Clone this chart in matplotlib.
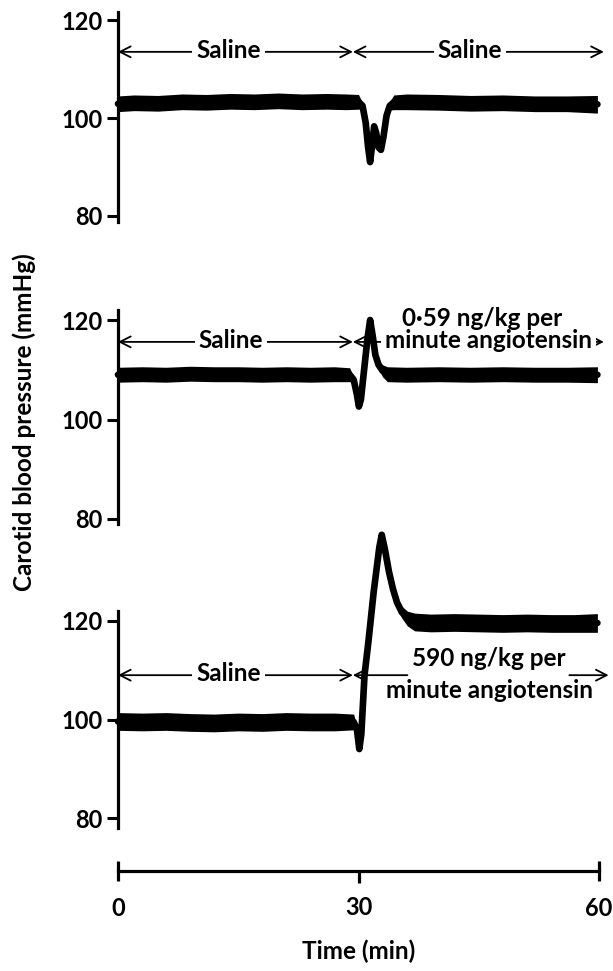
import matplotlib
matplotlib.use('Agg')
import matplotlib.pyplot as plt
import numpy as np

plt.rcParams['font.family'] = ['Lato', 'DejaVu Sans']
plt.rcParams['font.weight'] = 'bold'

W, H = 613, 971

# ---------------- data ----------------
# Panel 1: saline -> saline
p1_t = [0, 2, 5, 8, 11, 14, 17, 20, 23, 26, 28.5, 30.0, 30.5, 30.9, 31.2, 31.45, 31.7, 31.95,
        32.2, 32.5, 32.8, 33.1, 33.5, 33.9, 34.4, 36, 40, 44, 48, 52, 56, 59.8]
p1_v = [102.9, 103.1, 103.0, 103.3, 103.2, 103.4, 103.3, 103.5, 103.3, 103.4, 103.3, 103.3, 102.5,
        99.0, 94.0, 91.0, 94.5, 98.3, 97.0, 94.0, 93.5, 96.0, 100.5, 102.5, 103.2, 103.3, 103.2,
        103.0, 103.1, 102.9, 102.9, 102.8]
p1_hw = [1.6, 1.6, 1.6, 1.6, 1.6, 1.6, 1.6, 1.6, 1.6, 1.6, 1.6, 1.5, 0.6, 0, 0, 0, 0, 0, 0, 0, 0,
         0, 0.3, 0.9, 1.5, 1.6, 1.6, 1.6, 1.6, 1.6, 1.6, 1.8]

# Panel 2: saline -> 0.59 ng/kg per minute angiotensin
p2_t = [0, 3, 6, 9, 12, 15, 18, 21, 24, 27, 28.9, 29.4, 29.8, 30.05, 30.3, 30.7, 31.1, 31.45,
        31.8, 32.1, 32.5, 33.0, 33.6, 36, 40, 44, 48, 52, 56, 59.8]
p2_v = [109.0, 109.1, 109.0, 109.2, 109.1, 109.1, 109.0, 109.1, 109.0, 109.1, 109.0, 108.0, 105.0,
        102.6, 104.0, 110.0, 116.0, 120.0, 116.5, 113.0, 111.0, 109.8, 109.1, 109.0, 109.1,
        109.0, 109.1, 109.0, 109.0, 109.0]
p2_hw = [1.5, 1.5, 1.5, 1.5, 1.5, 1.5, 1.5, 1.5, 1.5, 1.5, 1.4, 0.5, 0, 0, 0, 0, 0, 0, 0, 0.3,
         0.8, 1.2, 1.5, 1.5, 1.5, 1.5, 1.5, 1.5, 1.5, 1.6]

# Panel 3: saline -> 590 ng/kg per minute angiotensin
p3_t = [0, 3, 6, 9, 12, 15, 18, 21, 24, 27, 29.4, 29.8, 30.1, 30.35, 30.75, 31.25, 31.9, 32.6,
        32.9, 33.3, 33.8, 34.3, 34.8, 35.4, 36.1, 37.0, 39, 42, 45, 48, 51, 54, 57, 59.8]
p3_v = [99.6, 99.5, 99.6, 99.4, 99.3, 99.5, 99.4, 99.6, 99.5, 99.5, 99.5, 98.0, 94.0, 97.0, 109.0,
        116.0, 126.0, 135.0, 137.5, 134.5, 130.0, 126.5, 123.8, 121.8, 120.5, 119.8, 119.6,
        119.7, 119.6, 119.5, 119.6, 119.5, 119.5, 119.6]
p3_hw = [1.8, 1.8, 1.8, 1.8, 1.8, 1.8, 1.8, 1.8, 1.8, 1.8, 1.6, 0.4, 0, 0, 0, 0, 0, 0, 0, 0.6,
         1.0, 1.0, 1.0, 1.2, 1.5, 1.8, 1.8, 1.8, 1.8, 1.8, 1.8, 1.8, 1.8, 1.9]

ytick_vals = [80, 100, 120]
ytick_labels = ['80', '100', '120']
xtick_major = [0, 60]
xtick_major_labels = ['0', '60']
xtick_minor = [30]
xtick_minor_labels = ['30']

FS = 17.5
TFS = 17

fig = plt.figure(figsize=(W / 100, H / 100), dpi=100)


def px_axes(left, right, top, bottom):
    return fig.add_axes([left / W, 1 - bottom / H, (right - left) / W, (bottom - top) / H])


def panel(top, bottom, y120, y80):
    ax = px_axes(118, 599, top, bottom)
    ppu = (y80 - y120) / 40.0
    ax.set_ylim(80 - (bottom - y80) / ppu, 120 + (y120 - top) / ppu)
    ax.set_xlim(0, 60)
    for s in ['top', 'right', 'bottom']:
        ax.spines[s].set_visible(False)
    ax.spines['left'].set_linewidth(2.3)
    ax.set_xticks([])
    ax.set_yticks(ytick_vals)
    ax.set_yticklabels(ytick_labels)
    ax.tick_params(axis='y', length=8, width=2.2, pad=3, labelsize=TFS)
    ax.patch.set_visible(False)
    return ax


def trace(ax, t, v, hw):
    t = np.asarray(t); v = np.asarray(v); hw = np.asarray(hw)
    ax.fill_between(t, v - hw, v + hw, color='black', lw=0, clip_on=False, zorder=5)
    ax.plot(t, v, color='black', lw=4.8, solid_capstyle='round', solid_joinstyle='round',
            clip_on=False, zorder=5)


def arrow(ax, x0, x1, y, style='<->'):
    ax.annotate('', xy=(x1, y), xytext=(x0, y), annotation_clip=False,
                arrowprops=dict(arrowstyle=style + ',head_length=0.55,head_width=0.28',
                                lw=1.3, color='black', shrinkA=0, shrinkB=0,
                                mutation_scale=14), zorder=2)


def label(ax, x, y, s, box=True):
    kw = dict(ha='center', va='center', fontsize=FS, zorder=3, clip_on=False)
    if box:
        kw['bbox'] = dict(facecolor='white', edgecolor='none', pad=3)
    ax.text(x, y, s, **kw)


# Panel 1
ax1 = panel(12, 222, 20, 216)
trace(ax1, p1_t, p1_v, p1_hw)
arrow(ax1, 0, 29.3, 113.5)
arrow(ax1, 29.3, 60.6, 113.5)
label(ax1, 13.8, 113.8, 'Saline')
label(ax1, 43.9, 113.8, 'Saline')

# Panel 2
ax2 = panel(310, 524, 320, 519)
trace(ax2, p2_t, p2_v, p2_hw)
arrow(ax2, 0, 29.3, 115.6)
arrow(ax2, 29.3, 60.6, 115.6)
label(ax2, 14.1, 115.9, 'Saline')
label(ax2, 46.2, 115.9, 'minute angiotensin')
label(ax2, 45.4, 120.4, '0·59 ng/kg per', box=False)

# Panel 3
ax3 = panel(611, 828, 621, 818)
trace(ax3, p3_t, p3_v, p3_hw)
arrow(ax3, 0, 29.3, 109.0)
label(ax3, 13.8, 109.3, 'Saline')
arrow(ax3, 29.3, 36.1, 109.0, style='<-')
arrow(ax3, 56.3, 61.2, 109.0, style='->')
label(ax3, 46.2, 112.3, '590 ng/kg per', box=False)
label(ax3, 46.3, 105.9, 'minute angiotensin', box=False)

# Time axis
axt = px_axes(118, 599, 840, 871)
axt.set_xlim(0, 60)
for s in ['top', 'right', 'left']:
    axt.spines[s].set_visible(False)
axt.spines['bottom'].set_linewidth(2.3)
axt.set_yticks([])
axt.set_xticks(xtick_major)
axt.set_xticklabels(xtick_major_labels)
axt.set_xticks(xtick_minor, minor=True)
axt.set_xticklabels(xtick_minor_labels, minor=True)
axt.tick_params(axis='x', which='major', direction='inout', length=14, width=2.3, pad=12,
                labelsize=TFS)
axt.tick_params(axis='x', which='minor', direction='out', length=8.5, width=2.3, pad=9.5,
                labelsize=TFS)
axt.patch.set_visible(False)

fig.text(359 / W, 1 - 951 / H, 'Time (min)', ha='center', va='center', fontsize=FS)
fig.text(24 / W, 1 - 422 / H, 'Carotid blood pressure (mmHg)', rotation=90,
         ha='center', va='center', fontsize=FS)

fig.savefig('out.png', dpi=100, facecolor='white')
